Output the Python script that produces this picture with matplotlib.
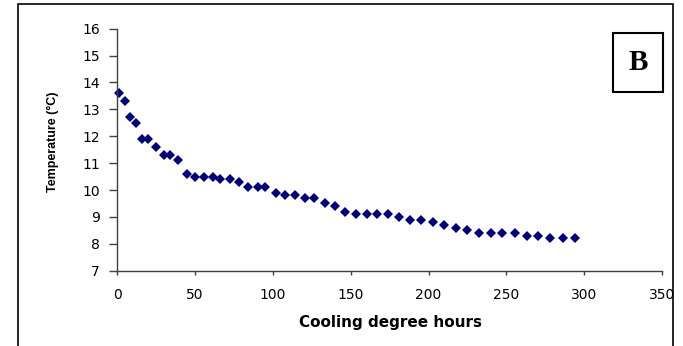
import matplotlib
matplotlib.use("Agg")
import matplotlib.pyplot as plt
from matplotlib.patches import Rectangle

cooling_degree_hours = [1.1, 5.1, 7.9, 12.1, 15.7, 20.0, 24.7, 29.8, 33.7, 38.8,
                        44.7, 49.8, 55.7, 61.6, 66.3, 72.3, 78.2, 84.3, 90.2, 95.0,
                        101.8, 108.0, 113.9, 120.9, 126.5, 133.5, 139.7, 146.5, 153.5, 160.5,
                        167.0, 174.0, 181.0, 188.1, 195.1, 203.0, 210.0, 217.9, 224.6, 232.5,
                        240.4, 247.4, 255.3, 263.4, 270.5, 278.3, 286.2, 294.1]
temperature = [13.6, 13.3, 12.7, 12.5, 11.9, 11.9, 11.6, 11.3, 11.3, 11.1,
               10.6, 10.5, 10.5, 10.5, 10.4, 10.4, 10.3, 10.1, 10.1, 10.1,
               9.9, 9.8, 9.8, 9.7, 9.7, 9.5, 9.4, 9.2, 9.1, 9.1,
               9.1, 9.1, 9.0, 8.9, 8.9, 8.8, 8.7, 8.6, 8.5, 8.4,
               8.4, 8.4, 8.4, 8.3, 8.3, 8.2, 8.2, 8.2]
x_ticks = [0, 50, 100, 150, 200, 250, 300, 350]
y_ticks = [7, 8, 9, 10, 11, 12, 13, 14, 15, 16]

plt.rcParams['font.family'] = ['DejaVu Sans']

W, H = 683, 346
fig = plt.figure(figsize=(W / 100, H / 100), dpi=100)
x0, x1, yt, yb = 117.3, 662.0, 28.7, 270.7
ax = fig.add_axes([x0 / W, 1 - yb / H, (x1 - x0) / W, (yb - yt) / H])

ax.plot(cooling_degree_hours, temperature, linestyle='none', marker='D',
        markersize=4.8, color='#000080', markeredgewidth=0, clip_on=False)

ax.set_xlim(0, 350)
ax.set_ylim(7, 16)
ax.set_xticks(x_ticks)
ax.set_yticks(y_ticks)
ax.tick_params(axis='x', direction='out', length=2.7, width=1, labelsize=10, pad=10,
               color='#404040')
ax.tick_params(axis='y', direction='out', length=5.5, width=1, labelsize=10, pad=7,
               color='#404040')
for s in ['top', 'right']:
    ax.spines[s].set_visible(False)
for s in ['left', 'bottom']:
    ax.spines[s].set_color('#404040')
    ax.spines[s].set_linewidth(1)

ax.set_xlabel('Cooling degree hours', fontsize=11, fontweight='bold')
ax.xaxis.label.set_va('center')
ax.xaxis.set_label_coords(((390.6 - x0) / (x1 - x0)), (yb - 322) / (yb - yt))
ax.set_ylabel('Temperature (°C)', fontsize=9, fontweight='bold',
              family='Liberation Sans')
ax.yaxis.label.set_va('center')
ax.yaxis.set_label_coords((52.5 - x0) / (x1 - x0), (yb - 141.7) / (yb - yt))

# outer frame
fig.patches.append(Rectangle((18 / W, -0.01), (673 - 18) / W, 1 - 4.5 / H + 0.01,
                             transform=fig.transFigure, fill=False, edgecolor='black',
                             linewidth=1.2))
# B box
fig.patches.append(Rectangle((613 / W, 1 - 92 / H), 50 / W, 59 / H,
                             transform=fig.transFigure, fill=False, edgecolor='black',
                             linewidth=1.5))
fig.text(638 / W, 1 - 63 / H, 'B', ha='center', va='center', fontsize=21,
         fontweight='bold', family='Liberation Serif')

fig.savefig('out.png', dpi=100)
